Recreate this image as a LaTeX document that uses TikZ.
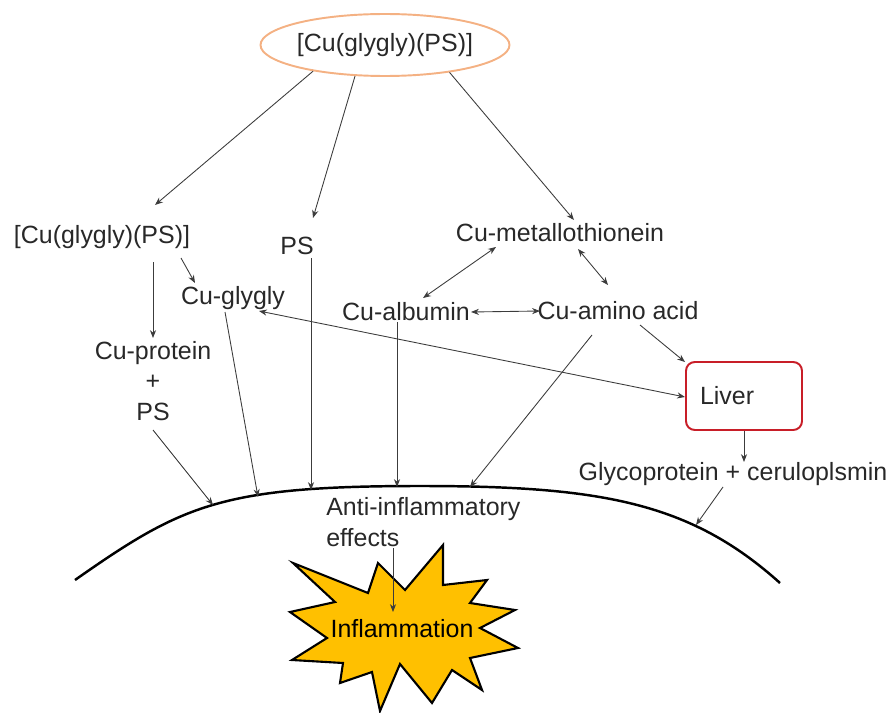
\documentclass[tikz,border=0pt]{standalone}
\usepackage{fontspec}
\setmainfont{Liberation Sans}
\usepackage{tikz}
\usetikzlibrary{shapes.geometric, arrows.meta, positioning, calc}
\definecolor{txtgray}{RGB}{40,40,40}
\definecolor{linegray}{RGB}{60,60,60}
\definecolor{peach}{RGB}{244,177,131}
\definecolor{liverred}{RGB}{200,30,40}
\definecolor{flame}{RGB}{255,192,0}
\tikzset{
  lbl/.style={text=txtgray, inner sep=0pt, align=center,
    font=\fontsize{14.2}{17.4}\selectfont},
  topell/.style={ellipse, draw=peach, line width=1.1pt, text=txtgray,
    minimum width=4.08cm, minimum height=1.24cm, inner sep=0pt,
    font=\fontsize{14.2}{17.4}\selectfont},
  liverbox/.style={rectangle, draw=liverred, line width=1.1pt, text=txtgray,
    rounded corners=5pt, text width=1.76cm, align=left, inner xsep=0.28cm,
    minimum height=1.36cm, font=\fontsize{14.2}{17.4}\selectfont},
  arr/.style={-{Stealth[length=4.5pt,width=3.5pt]}, line width=0.5pt, color=linegray},
  dblarr/.style={{Stealth[length=4.5pt,width=3.5pt]}-{Stealth[length=4.5pt,width=3.5pt]}, line width=0.5pt, color=linegray},
  membrane/.style={line width=1.4pt, color=black}
}
\begin{document}
\begin{tikzpicture}[x=0.02cm, y=-0.02cm]
  \useasboundingbox (0,0) rectangle (886,713);

  % Complex at the top
  \node[topell] (top) at (385,45) {[Cu(glygly)(PS)]};

  % Left branch
  \node[lbl] (lcx) at (102,237) {[Cu(glygly)(PS)]};
  \node[lbl] (cgl) at (233,298) {Cu-glygly};
  \node[lbl] (cpr) at (153,381) {Cu-protein\\+\\PS};

  % Middle
  \node[lbl] (ps) at (297,246) {PS};

  % Right branch
  \node[lbl] (cmt) at (560,233) {Cu-metallothionein};
  \node[lbl] (calb) at (406,312) {Cu-albumin};
  \node[lbl] (caa) at (618,311) {Cu-amino acid};
  \node[liverbox] (liver) at (744,396) {Liver};
  \node[lbl] (glyc) at (733,474) {Glycoprotein + ceruloplsmin};

  % Membrane
  \draw[membrane] (75,580) .. controls (182,505) and (221,486) .. (420,486)
    .. controls (600,486) and (690,502) .. (780,583);
  \coordinate (m1) at (213,505);
  \coordinate (m2) at (258,497);
  \coordinate (m3) at (311,490);
  \coordinate (m4) at (397,487);
  \coordinate (m5) at (470,487);
  \coordinate (m6) at (696,525);

  % Starburst
  \filldraw[fill=flame, draw=black, line width=1.2pt, line join=miter]
    (293,563) -- (368,593) -- (378,563) -- (405,590) -- (443,545) -- (443,585)
    -- (487,580) -- (470,603) -- (515,610) -- (480,628) -- (518,648) -- (470,658)
    -- (482,690) -- (452,670) -- (432,703) -- (400,664) -- (380,711) -- (372,672)
    -- (340,683) -- (343,663) -- (292,660) -- (327,638) -- (290,612) -- (335,602) -- cycle;
  \node[lbl, text=black] (infl) at (402,629) {Inflammation};
  \node[lbl, anchor=west, align=left] (anti) at (326,522) {Anti-inflammatory\\effects};

  % Arrows from the top complex
  \draw[arr] (top.200) -- ($(lcx)+(53,-32)$);
  \draw[arr] (top.226) -- ($(ps)+(16,-28)$);
  \draw[arr] (top.337) -- ($(cmt)+(14,-13)$);

  % Left branch arrows
  \draw[arr] ($(lcx)+(51,25)$) -- ($(cpr)+(0,-43)$);
  \draw[arr] ($(lcx)+(79,21)$) -- ($(cgl)+(-38,-15)$);
  \draw[arr] ($(cgl)+(-8,14)$) -- (m2);
  \draw[arr] ($(ps)+(14,12)$) -- (m3);
  \draw[arr] ($(cpr)+(0,49)$) -- (m1);

  % Copper exchange
  \draw[dblarr] ($(cmt)+(-64,14)$) -- ($(calb)+(17,-14)$);
  \draw[dblarr] ($(cmt)+(18,16)$) -- ($(caa)+(-10,-26)$);
  \draw[dblarr] ($(calb)+(65,0)$) -- ($(caa)+(-78,0)$);
  \draw[arr] ($(calb)+(-9,10)$) -- (m4);
  \draw[arr] ($(caa)+(-26,24)$) -- (m5);
  \draw[arr] ($(caa)+(22,14)$) -- ($(liver)+(-59,-34)$);
  \draw[dblarr] ($(cgl)+(26,13)$) -- ($(liver)+(-59,1)$);

  % Liver output
  \draw[arr] (liver.south) -- ($(glyc)+(11,-12)$);
  \draw[arr] ($(glyc)+(-10,13)$) -- (m6);

  % Effect on inflammation
  \draw[arr] ($(anti.west)+(67,26)$) -- ($(infl)+(-9,-17)$);
\end{tikzpicture}
\end{document}
